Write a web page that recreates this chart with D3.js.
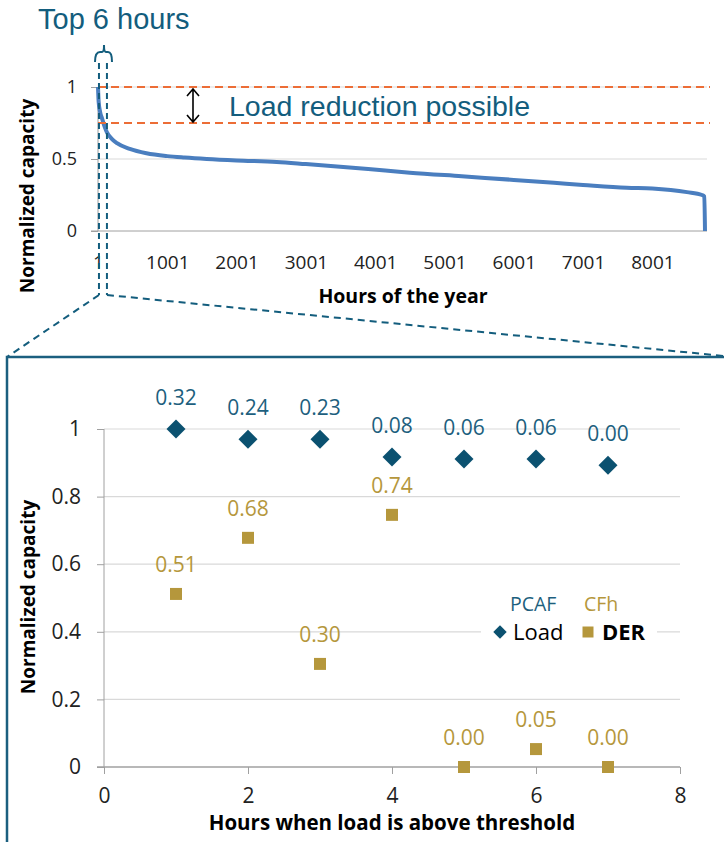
<!DOCTYPE html>
<html>
<head>
<meta charset="utf-8">
<script src="https://cdn.jsdelivr.net/npm/d3@7"></script>
<style>
  body { margin: 0; background: #fff; }
  svg { display: block; }
  text { font-family: "Open Sans", sans-serif; }
</style>
</head>
<body>
<svg id="chart" width="724" height="842"></svg>
<script>
// top panel: load duration curve
const curveHours = [1, 10, 30, 60, 100, 130, 200, 275, 460, 700, 1000, 1250, 1570, 2000, 2580, 3000, 3900, 4500, 5250, 6000, 6580, 7000, 7630, 8000, 8500, 8717, 8750, 8760];
const curveLoad = [1.0, 0.9, 0.83, 0.78, 0.72, 0.685, 0.64, 0.61, 0.57, 0.54, 0.52, 0.51, 0.5, 0.49, 0.48, 0.465, 0.43, 0.405, 0.38, 0.355, 0.335, 0.32, 0.3, 0.295, 0.27, 0.25, 0.24, 0.0];
const topXTicks = [1, 1001, 2001, 3001, 4001, 5001, 6001, 7001, 8001];
const topYTicks = [0, 0.5, 1];
const thresholds = [1, 0.75];
const zoomHours = [15, 130];

// bottom panel: top hours
const hoursAbove = [1, 2, 3, 4, 5, 6, 7];
const loadVals = [1.0, 0.97, 0.97, 0.917, 0.911, 0.911, 0.893];
const derVals = [0.512, 0.678, 0.305, 0.746, 0.0, 0.053, 0.0];
const pcafLabels = ["0.32", "0.24", "0.23", "0.08", "0.06", "0.06", "0.00"];
const cfhLabels = ["0.51", "0.68", "0.30", "0.74", "0.00", "0.05", "0.00"];
const botXTicks = [0, 2, 4, 6, 8];
const botYTicks = [0, 0.2, 0.4, 0.6, 0.8, 1];

const teal = "#135d7d";
const diamondCol = "#0b5170";
const gold = "#b5973c";
const blue = "#4a7ebf";
const orange = "#ec6d36";
const grid = "#d9d9d9";
const axisCol = "#a0a0a0";

let svg = d3.select("#chart");

// ---------- top chart ----------
let x1 = d3.scaleLinear().domain([1, 8760]).range([98, 705]);
let y1 = d3.scaleLinear().domain([0, 1]).range([231, 87]);

let topG = svg.append("g");

topG.append("g")
  .selectAll("line")
  .data([0.5, 1])
  .join("line")
  .attr("x1", 98)
  .attr("x2", 707)
  .attr("y1", (d) => y1(d))
  .attr("y2", (d) => y1(d))
  .style("stroke", grid)
  .style("stroke-width", 1.2);

let yAxis1 = d3.axisLeft(y1).tickValues(topYTicks).tickSize(7).tickFormat(d3.format("~g"));
topG.append("g")
  .attr("transform", "translate(98,0)")
  .call(yAxis1)
  .call((g) => g.select(".domain").attr("d", `M0,${y1(0)}V${y1(1)}`).style("stroke", axisCol))
  .call((g) => g.selectAll(".tick line").style("stroke", axisCol))
  .call((g) => g.selectAll(".tick text").attr("x", -21).style("font-size", "18px").style("fill", "#222"));

let xAxis1 = d3.axisBottom(x1).tickValues(topXTicks).tickSize(0).tickPadding(25).tickFormat(d3.format("d"));
topG.append("g")
  .attr("transform", `translate(0,${y1(0)})`)
  .call(xAxis1)
  .call((g) => g.select(".domain").attr("d", `M91,0H707`).style("stroke", axisCol))
  .call((g) => g.selectAll(".tick text").style("font-size", "19px").style("fill", "#222"));

let line = d3.line()
  .x((d, i) => x1(curveHours[i]))
  .y((d) => y1(d))
  .curve(d3.curveMonotoneX);

topG.append("path")
  .datum(curveLoad)
  .attr("d", line)
  .style("fill", "none")
  .style("stroke", blue)
  .style("stroke-width", 4)
  .style("stroke-linejoin", "round");

topG.append("g")
  .selectAll("line")
  .data(thresholds)
  .join("line")
  .attr("x1", 98)
  .attr("x2", 710)
  .attr("y1", (d) => y1(d))
  .attr("y2", (d) => y1(d))
  .style("stroke", orange)
  .style("stroke-width", 2)
  .style("stroke-dasharray", "8,5");

// double arrow
topG.append("path")
  .attr("d", `M193,${y1(1) + 2}V${y1(0.75) - 1}M187,${y1(1) + 9}L193,${y1(1) + 2}L199,${y1(1) + 9}M187,${y1(0.75) - 8}L193,${y1(0.75) - 1}L199,${y1(0.75) - 8}`)
  .style("fill", "none")
  .style("stroke", "#000")
  .style("stroke-width", 1.6);

topG.append("text")
  .attr("x", 229)
  .attr("y", 116)
  .style("font-family", "'Liberation Sans', Arial, sans-serif")
  .style("font-size", "28.5px")
  .style("fill", teal)
  .text("Load reduction possible");

topG.append("text")
  .attr("x", 38)
  .attr("y", 29)
  .style("font-family", "'Liberation Sans', Arial, sans-serif")
  .style("font-size", "29px")
  .style("fill", teal)
  .text("Top 6 hours");

topG.append("text")
  .attr("transform", "translate(34,196) rotate(-90)")
  .attr("text-anchor", "middle")
  .style("font-size", "19px")
  .style("font-weight", "bold")
  .text("Normalized capacity");

topG.append("text")
  .attr("x", 403)
  .attr("y", 303)
  .attr("text-anchor", "middle")
  .style("font-size", "19.5px")
  .style("font-weight", "bold")
  .text("Hours of the year");

// zoom annotation: brace, dashed verticals, diagonals
let za = zoomHours.map((h) => x1(h));
topG.append("path")
  .attr("d", `M95,62Q95,52 100,52L102,52Q104,52 104,45Q104,52 106,52L108,52Q112,52 112,62`)
  .style("fill", "none")
  .style("stroke", teal)
  .style("stroke-width", 2);

topG.append("g")
  .selectAll("line")
  .data(za)
  .join("line")
  .attr("x1", (d) => d)
  .attr("x2", (d) => d)
  .attr("y1", 63)
  .attr("y2", 295)
  .style("stroke", teal)
  .style("stroke-width", 2)
  .style("stroke-dasharray", "6,4");

topG.append("path")
  .attr("d", `M${za[0]},295L7,357M${za[1]},295L724,356`)
  .style("fill", "none")
  .style("stroke", teal)
  .style("stroke-width", 2)
  .style("stroke-dasharray", "7,5");

// ---------- bottom chart ----------
svg.append("rect")
  .attr("x", 7)
  .attr("y", 357)
  .attr("width", 740)
  .attr("height", 520)
  .style("fill", "none")
  .style("stroke", "#1b5f7f")
  .style("stroke-width", 2.5);

let x2 = d3.scaleLinear().domain([0, 8]).range([104, 680]);
let y2 = d3.scaleLinear().domain([0, 1]).range([767, 429]);

let bot = svg.append("g");

bot.append("g")
  .selectAll("line")
  .data(botYTicks.filter((d) => d > 0))
  .join("line")
  .attr("x1", 104)
  .attr("x2", 680)
  .attr("y1", (d) => y2(d))
  .attr("y2", (d) => y2(d))
  .style("stroke", grid)
  .style("stroke-width", 1.2);

let yAxis2 = d3.axisLeft(y2).tickValues(botYTicks).tickSize(7).tickFormat(d3.format("~g"));
bot.append("g")
  .attr("transform", "translate(104,0)")
  .call(yAxis2)
  .call((g) => g.select(".domain").attr("d", `M0,${y2(0)}V${y2(1)}`).style("stroke", axisCol))
  .call((g) => g.selectAll(".tick line").style("stroke", axisCol))
  .call((g) => g.selectAll(".tick text").attr("x", -23).style("font-size", "21px").style("fill", "#222"));

let xAxis2 = d3.axisBottom(x2).tickValues(botXTicks).tickSize(7).tickPadding(14);
bot.append("g")
  .attr("transform", `translate(0,${y2(0)})`)
  .call(xAxis2)
  .call((g) => g.select(".domain").attr("d", `M97,0H680`).style("stroke", axisCol).style("stroke-width", 1.5))
  .call((g) => g.selectAll(".tick line").style("stroke", axisCol))
  .call((g) => g.selectAll(".tick text").style("font-size", "21px").style("fill", "#222"));

bot.append("text")
  .attr("transform", "translate(35,597) rotate(-90)")
  .attr("text-anchor", "middle")
  .style("font-size", "19px")
  .style("font-weight", "bold")
  .text("Normalized capacity");

bot.append("text")
  .attr("x", 392)
  .attr("y", 830)
  .attr("text-anchor", "middle")
  .style("font-size", "20.5px")
  .style("font-weight", "bold")
  .text("Hours when load is above threshold");

let diamond = d3.symbol().type(d3.symbolSquare).size(180);
let square = d3.symbol().type(d3.symbolSquare).size(144);

bot.append("g")
  .selectAll("path")
  .data(loadVals)
  .join("path")
  .attr("d", diamond)
  .attr("transform", (d, i) => `translate(${x2(hoursAbove[i])},${y2(d)}) rotate(45)`)
  .style("fill", diamondCol);

bot.append("g")
  .selectAll("path")
  .data(derVals)
  .join("path")
  .attr("d", square)
  .attr("transform", (d, i) => `translate(${x2(hoursAbove[i])},${y2(d)})`)
  .style("fill", gold);

bot.append("g")
  .selectAll("text")
  .data(loadVals)
  .join("text")
  .attr("x", (d, i) => x2(hoursAbove[i]))
  .attr("y", (d) => y2(d) - 24)
  .attr("text-anchor", "middle")
  .style("font-size", "21px")
  .style("fill", "#1d5f7e")
  .text((d, i) => pcafLabels[i]);

bot.append("g")
  .selectAll("text")
  .data(derVals)
  .join("text")
  .attr("x", (d, i) => x2(hoursAbove[i]))
  .attr("y", (d) => y2(d) - 22)
  .attr("text-anchor", "middle")
  .style("font-size", "21px")
  .style("fill", gold)
  .text((d, i) => cfhLabels[i]);

// legend
let legend = bot.append("g");
legend.append("rect")
  .attr("x", 481)
  .attr("y", 620)
  .attr("width", 176)
  .attr("height", 26)
  .style("fill", "#fff");
legend.append("path")
  .attr("d", d3.symbol().type(d3.symbolSquare).size(90))
  .attr("transform", "translate(500,632) rotate(45)")
  .style("fill", diamondCol);
legend.append("text")
  .attr("x", 513)
  .attr("y", 640)
  .style("font-size", "22px")
  .text("Load");
legend.append("path")
  .attr("d", d3.symbol().type(d3.symbolSquare).size(121))
  .attr("transform", "translate(588,632)")
  .style("fill", gold);
legend.append("text")
  .attr("x", 602)
  .attr("y", 640)
  .style("font-size", "22px")
  .style("font-weight", "bold")
  .text("DER");
legend.append("text")
  .attr("x", 510)
  .attr("y", 610.5)
  .style("font-size", "19.5px")
  .style("fill", "#1d5f7e")
  .text("PCAF");
legend.append("text")
  .attr("x", 584)
  .attr("y", 610.5)
  .style("font-size", "19.5px")
  .style("fill", gold)
  .text("CFh");
</script>
</body>
</html>
